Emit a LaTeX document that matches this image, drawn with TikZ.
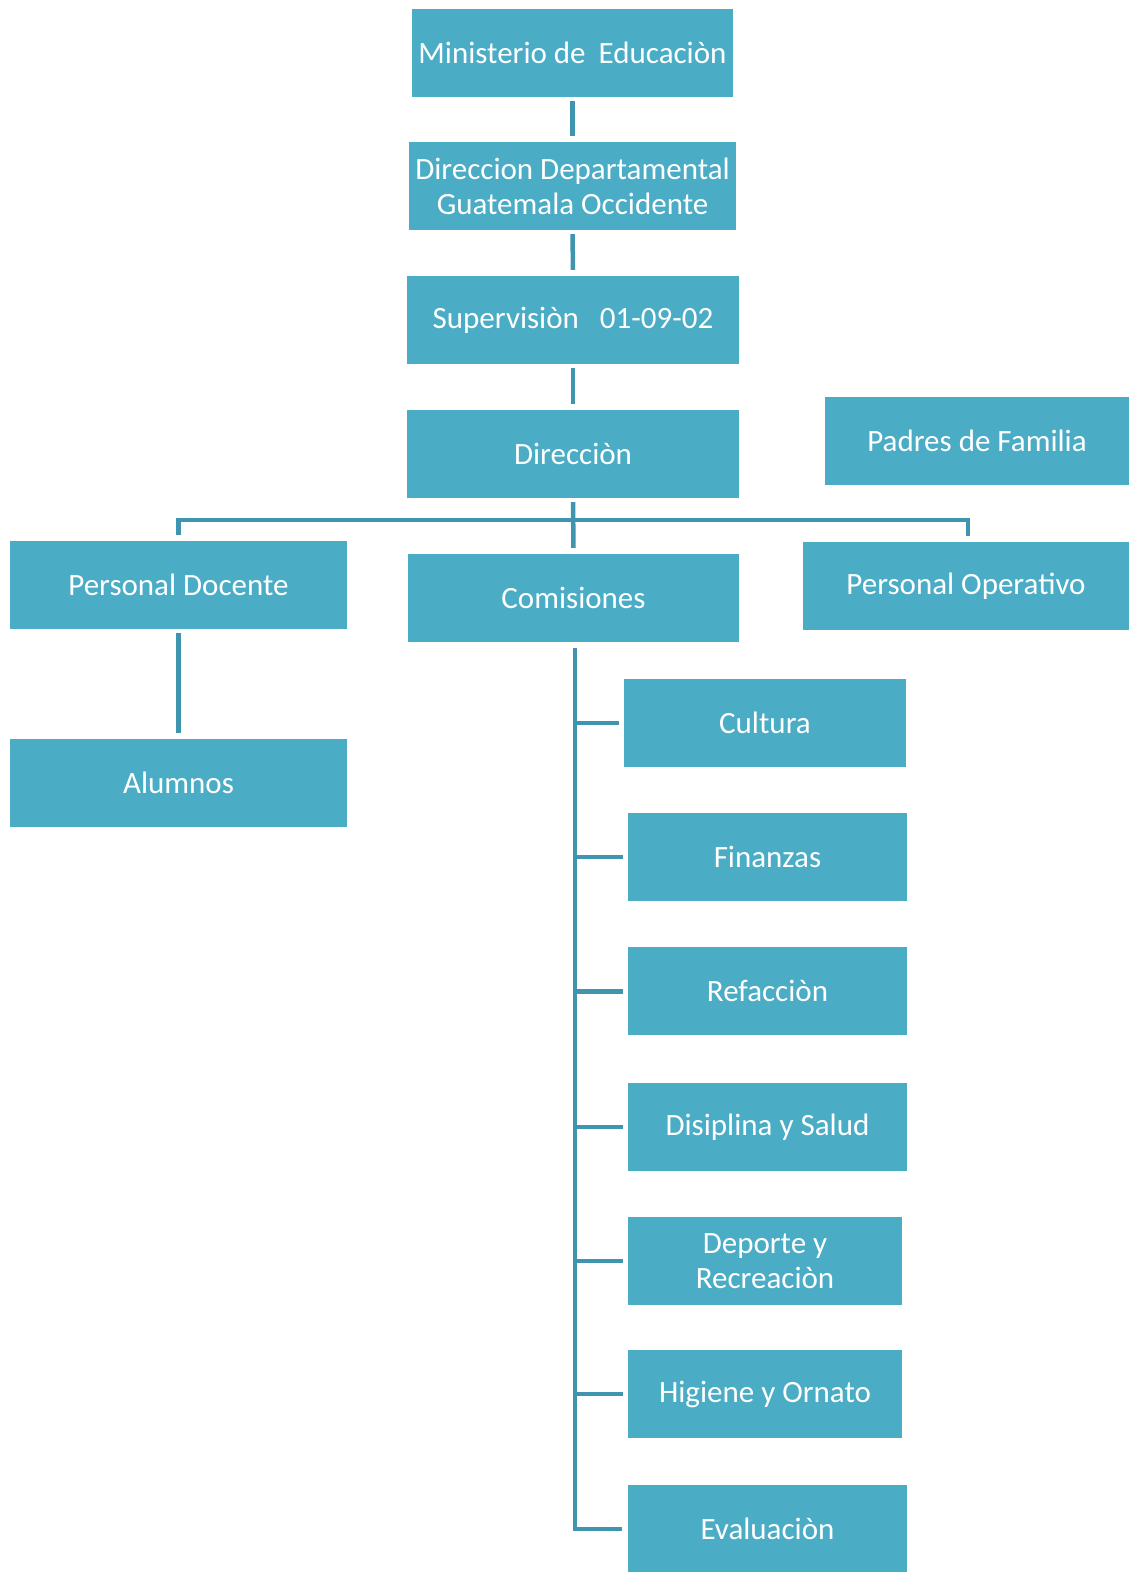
\documentclass[tikz,border=0pt]{standalone}
\usepackage{fontspec}
\setmainfont{Carlito}
\usepackage{tikz}
\usetikzlibrary{positioning,calc}
\definecolor{boxblue}{HTML}{4BACC6}
\definecolor{lineblue}{HTML}{3F95AF}
\tikzset{
  unit/.style={fill=boxblue, text=white, inner sep=0pt, minimum height=88pt,
    align=center, font=\fontsize{31}{35}\selectfont},
  link/.style={draw=lineblue, line width=4.5pt}
}

\begin{document}
\begin{tikzpicture}[x=1pt,y=-1pt]
    \useasboundingbox (0,0) rectangle (1129,1572);
    \node[unit,minimum width=321pt] (min) at (572.5,53) {Ministerio de\hspace{13pt}Educaciòn};
    \node[unit,minimum width=327pt] (dep) at (572.5,186) {Direccion Departamental\\Guatemala Occidente};
    \node[unit,minimum width=332pt] (sup) at (573,320) {Supervisiòn\ \ \ 01-09-02};
    \node[unit,minimum width=332pt] (dir) at (573,454) {Direcciòn};
    \node[unit,minimum width=304pt] (padres) at (977,441) {Padres de Familia};
    \node[unit,minimum width=337pt] (docente) at (178.5,585) {Personal Docente};
    \node[unit,minimum width=331pt] (comis) at (573.5,598) {Comisiones};
    \node[unit,minimum width=326pt] (operativo) at (966,586) {Personal Operativo};
    \node[unit,minimum width=337pt] (alumnos) at (178.5,783) {Alumnos};
    \node[unit,minimum width=282pt] (cultura) at (765,723) {Cultura};
    \node[unit,minimum width=279pt] (finanzas) at (767.5,857) {Finanzas};
    \node[unit,minimum width=279pt] (refaccion) [below=46pt of finanzas] {Refacciòn};
    \node[unit,minimum width=279pt] (disiplina) [below=47pt of refaccion] {Disiplina y Salud};
    \node[unit,minimum width=274pt,xshift=-2.5pt] (deporte) [below=46pt of disiplina] {Deporte y\\Recreaciòn};
    \node[unit,minimum width=274pt] (higiene) at (765,1394) {Higiene y Ornato};
    \node[unit,minimum width=279pt] (evaluacion) at (767.5,1529) {Evaluaciòn};
    % chain down to the direction
    \path[link,shorten <=4pt,shorten >=6pt]
    (min) edge (dep)
    (dep) edge (sup)
    (sup) edge (dir)
    (dir) edge (comis)
    (docente) edge (alumnos);
    \coordinate (bus) at (573,520);
    \draw[link] ([yshift=6pt]docente.north) |- (bus) -| ([xshift=2pt,yshift=6pt]operativo.north);
    % comisiones
    \draw[link] ([xshift=1.5pt,yshift=-6pt]comis.south) |- ([xshift=-6pt]evaluacion.west);
    \foreach \c in {cultura,finanzas,refaccion,disiplina,deporte,higiene}
      \draw[link] ([xshift=1.5pt]comis.south |- \c.west) -- ([xshift=-5pt]\c.west);
\end{tikzpicture}
\end{document}
